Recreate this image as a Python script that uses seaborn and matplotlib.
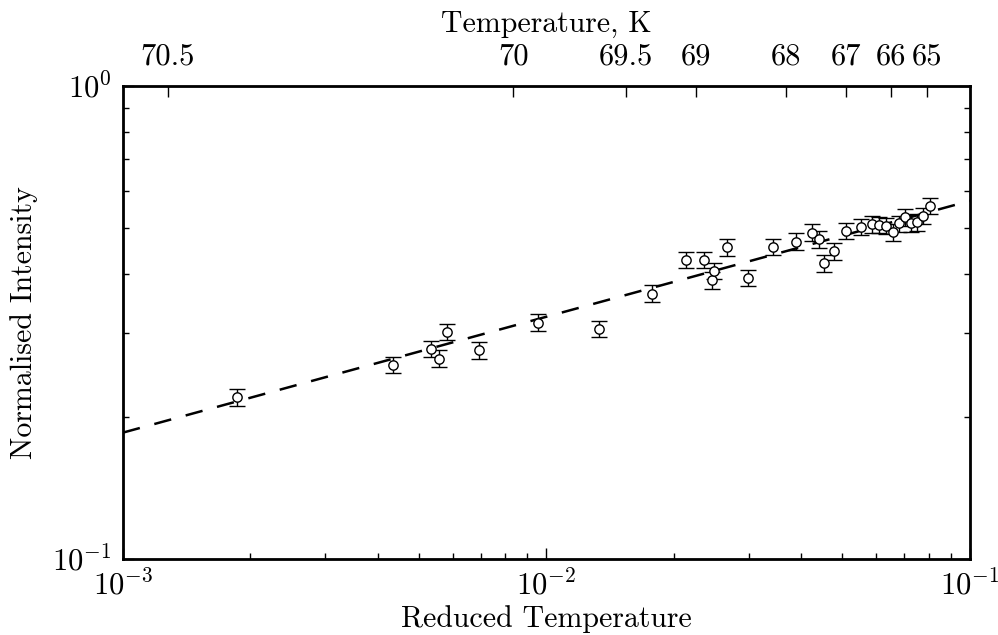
import numpy as np
import matplotlib
matplotlib.use("Agg")
import matplotlib.pyplot as plt
import seaborn as sns
from matplotlib.ticker import NullLocator, NullFormatter

sns.set_style("ticks")
plt.rcParams['font.family'] = 'cmr10'
plt.rcParams['mathtext.fontset'] = 'cm'
plt.rcParams['axes.formatter.use_mathtext'] = True
plt.rcParams['font.size'] = 21.5
for key in ['text.color', 'axes.labelcolor', 'xtick.color', 'ytick.color', 'axes.edgecolor']:
    plt.rcParams[key] = 'black'

# --- data ---
reduced_t = [1.862e-3, 4.332e-3, 5.329e-3, 5.575e-3, 5.832e-3, 6.94e-3, 9.533e-3,
             0.0133, 0.01772, 0.02135, 0.0236, 0.02462, 0.02486, 0.02664, 0.02999,
             0.03431, 0.03882, 0.04228, 0.04407, 0.04525, 0.04767, 0.05096, 0.05519,
             0.05859, 0.06086, 0.06333, 0.06571, 0.06789, 0.07011, 0.07263, 0.07496,
             0.07756, 0.08031]
intensity = [0.220, 0.257, 0.278, 0.265, 0.302, 0.276, 0.316,
             0.307, 0.364, 0.429, 0.429, 0.389, 0.406, 0.456, 0.393,
             0.457, 0.469, 0.490, 0.474, 0.422, 0.447, 0.494, 0.503,
             0.510, 0.509, 0.507, 0.491, 0.512, 0.528, 0.513, 0.515,
             0.532, 0.558]
intensity_err = [0.009, 0.010, 0.011, 0.011, 0.012, 0.011, 0.013,
                 0.012, 0.015, 0.017, 0.017, 0.016, 0.016, 0.018, 0.016,
                 0.018, 0.019, 0.020, 0.019, 0.017, 0.018, 0.020, 0.020,
                 0.020, 0.020, 0.020, 0.020, 0.020, 0.021, 0.021, 0.021,
                 0.021, 0.022]

# power-law fit  I = A * t**beta
fit_A = 1.005
fit_beta = 0.245

# top axis: temperature, t = 1 - T/Tc
T_C = 70.59
temp_ticks = [70.5, 70.0, 69.5, 69.0, 68.0, 67.0, 66.0, 65.0]
temp_labels = ['70.5', '70', '69.5', '69', '68', '67', '66', '65']

fig = plt.figure(figsize=(9.98, 6.35), dpi=100)
ax = fig.add_axes([0.1232, 0.1197, 0.8487, 0.7449])

t_fit = np.array([1e-3, 1e-1])
sns.lineplot(x=t_fit, y=fit_A * t_fit ** fit_beta, ax=ax, color='black',
             linewidth=1.8, linestyle=(0, (7, 6)))
ax.errorbar(reduced_t, intensity, yerr=intensity_err, fmt='none', ecolor='black',
            elinewidth=1, capsize=6, capthick=1)
sns.scatterplot(x=reduced_t, y=intensity, ax=ax, marker='o', s=45,
                facecolor='white', edgecolor='black', linewidth=1, zorder=5)

ax.set_xscale('log')
ax.set_yscale('log')
ax.set_xlim(1e-3, 1e-1)
ax.set_ylim(1e-1, 1)
ax.xaxis.set_minor_formatter(NullFormatter())
ax.yaxis.set_minor_formatter(NullFormatter())
ax.set_xlabel('Reduced Temperature', labelpad=3)
ax.set_ylabel('Normalised Intensity', labelpad=10)
ax.tick_params(which='both', direction='in', top=False, right=True)
ax.tick_params(which='major', length=8, width=1, pad=8, labelsize=22)
ax.tick_params(which='minor', length=4, width=1)
for sp in ax.spines.values():
    sp.set_linewidth(2)
    sp.set_visible(True)

ax2 = ax.twiny()
ax2.set_xscale('log')
ax2.set_xlim(ax.get_xlim())
ax2.set_xticks([1 - T / T_C for T in temp_ticks])
ax2.set_xticklabels(temp_labels)
ax2.xaxis.set_minor_locator(NullLocator())
ax2.tick_params(direction='in', length=8, width=1, pad=11, labelsize=22)
ax2.set_xlabel('Temperature, K', labelpad=8)

fig.savefig('out.png', dpi=100)
